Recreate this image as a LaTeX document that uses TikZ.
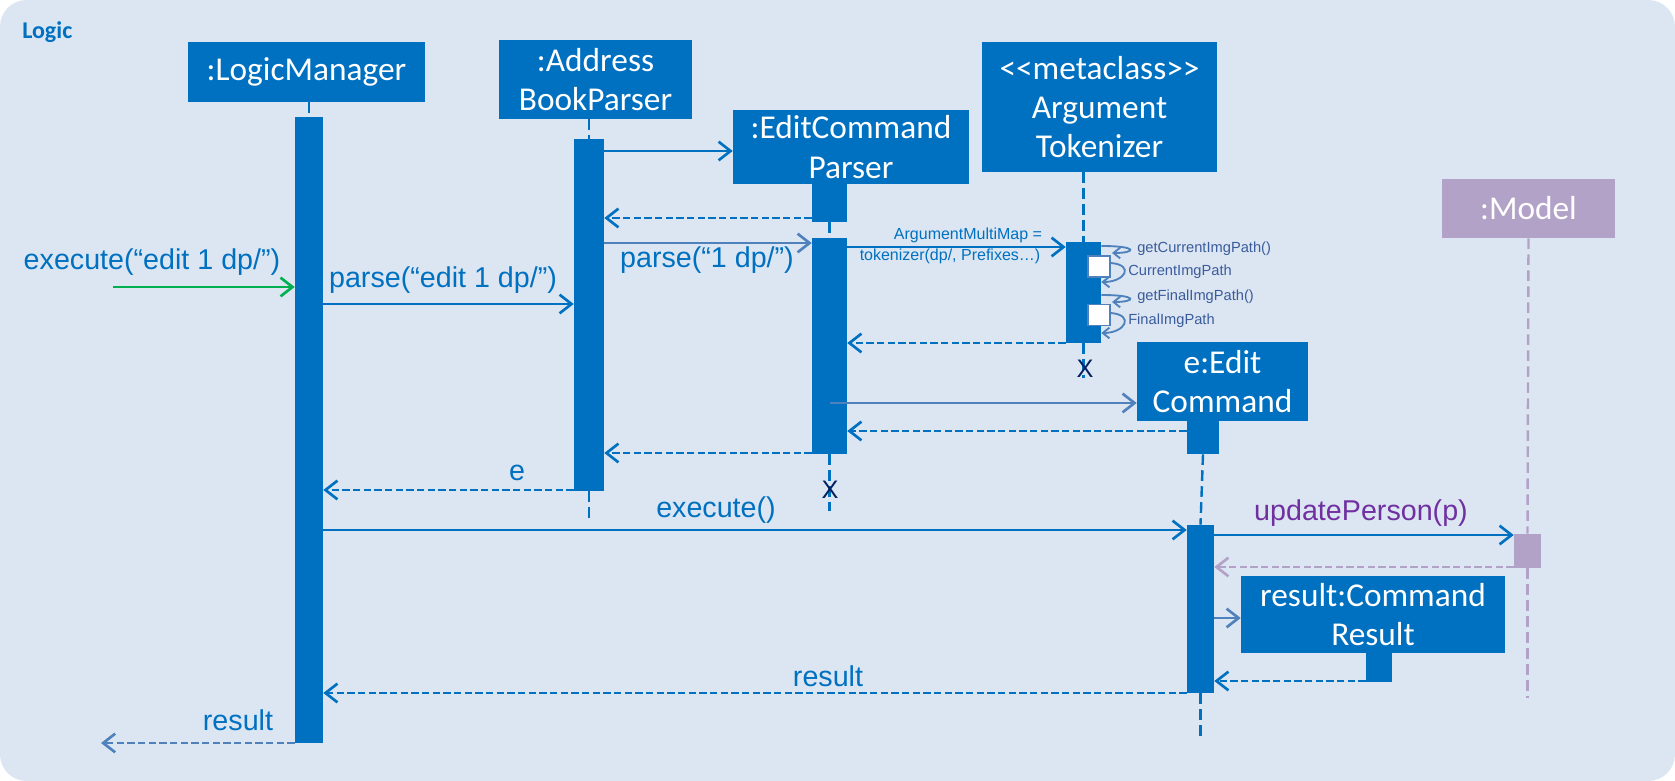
\documentclass[tikz,border=0pt]{standalone}
\usepackage{fontspec}
\setmainfont{Liberation Sans}
\newfontfamily\calibri{Carlito}
\usetikzlibrary{arrows.meta}

\definecolor{bgblue}{HTML}{DCE6F2}
\definecolor{objblue}{HTML}{0070C0}
\definecolor{softblue}{HTML}{4F81BD}
\definecolor{selfblue}{HTML}{3A5C9C}
\definecolor{modelpurple}{HTML}{B3A2C7}
\definecolor{labelpurple}{HTML}{7030A0}
\definecolor{navy}{HTML}{002060}
\definecolor{foundgreen}{HTML}{00B050}

\tikzset{
    obj/.style={fill=objblue, text=white, inner sep=0pt, align=center,
        font=\calibri\fontsize{25}{29.5}\selectfont},
    bar/.style={fill=objblue, inner sep=0pt},
    lifeline/.style={objblue, line width=1.8pt, dash pattern=on 8pt off 4pt},
    msg/.style={objblue, line width=1.8pt,
        -{Straight Barb[length=9pt,width=14pt,line width=2pt]}},
    ret/.style={msg, line width=2.2pt, dash pattern=on 5.5pt off 2.5pt},
    selfmsg/.style={softblue, line width=1.4pt,
        -{Straight Barb[length=5pt,width=8pt,line width=1.4pt]}},
    lbl/.style={text=objblue, inner sep=0pt, font=\fontsize{21.5}{26}\selectfont},
    small/.style={text=objblue, inner sep=0pt, font=\fontsize{12}{14}\selectfont},
    selflbl/.style={text=selfblue, inner sep=0pt, anchor=west, font=\fontsize{11}{13}\selectfont},
    cross/.style={text=navy, inner sep=0pt, font=\fontsize{19}{19}\selectfont},
}

\begin{document}
\begin{tikzpicture}[x=0.75pt, y=-0.75pt]
    \useasboundingbox (0,0) rectangle (1675,781);
    \fill[bgblue, rounded corners=20pt] (0,0) rectangle (1675,781);
    \node[anchor=west, text=objblue, inner sep=0pt, font=\calibri\bfseries\fontsize{18}{21}\selectfont] (title) at (22,32) {Logic};

    % objects
    \node[obj, minimum width=177.75pt, minimum height=45pt] (lm) at (306.5,72) {:LogicManager};
    \node[obj, minimum width=144.75pt, minimum height=59.25pt] (abp) at (595.5,79.5) {:Address\\BookParser};
    \node[obj, minimum width=177pt, minimum height=55.5pt] (ecp) at (851,147) {:EditCommand\\Parser};
    \node[obj, minimum width=176.25pt, minimum height=97.5pt] (at) at (1099.5,107) {<<metaclass>>\\Argument\\Tokenizer};
    \node[obj, fill=modelpurple, minimum width=129.75pt, minimum height=44.25pt] (model) at (1528.5,208.5) {:Model};
    \node[obj, minimum width=128.25pt, minimum height=59.25pt] (ec) at (1222.5,381.5) {e:Edit\\Command};
    \node[obj, minimum width=198pt, minimum height=57.75pt] (cr) at (1373,614.5) {result:Command\\Result};

    % activation bars
    \node[bar, minimum width=21pt, minimum height=469.5pt] (lmBar) at (309,430) {};
    \node[bar, minimum width=22.5pt, minimum height=264pt] (abpBar) at (589,315) {};
    \node[bar, minimum width=26.25pt, minimum height=28.5pt] (ecpTop) at (829.5,203) {};
    \node[bar, minimum width=26.25pt, minimum height=162pt] (ecpBar) at (829.5,346) {};
    \node[bar, minimum width=26.25pt, minimum height=75.75pt] (atBar) at (1083.5,292.5) {};
    \node[bar, minimum width=24pt, minimum height=24.75pt] (ecTop) at (1203,437.5) {};
    \node[bar, minimum width=20.25pt, minimum height=126pt] (ecBar) at (1200.5,609) {};
    \node[bar, fill=modelpurple, minimum width=20.25pt, minimum height=25.5pt] (modelBar) at (1527.5,551) {};
    \node[bar, minimum width=19.5pt, minimum height=21.75pt] (crBar) at (1379,667.5) {};
    \node[draw=softblue, fill=white, line width=1.2pt, inner sep=0pt, minimum width=16.5pt, minimum height=15.75pt] (sq1) at (1099,266.5) {};
    \node[draw=softblue, fill=white, line width=1.2pt, inner sep=0pt, minimum width=16.5pt, minimum height=15.75pt] (sq2) at (1099,315) {};

    % lifelines
    \draw[lifeline] (lm.south -| lmBar) -- (lmBar.north);
    \draw[lifeline] (abp.south -| abpBar) -- (abpBar.north);
    \draw[lifeline] (abpBar.south) -- (abpBar |- 0,523);
    \draw[lifeline] (ecpTop.south) -- (ecpBar.north);
    \draw[lifeline] (ecpBar.south) -- (ecpBar |- 0,511);
    \draw[lifeline] (at.south -| atBar) -- (atBar.north);
    \draw[lifeline] (atBar.south) -- (atBar |- 0,378);
    \draw[lifeline] (ecTop.south) -- (ecBar.north);
    \draw[lifeline] (ecBar.south) -- (ecBar |- 0,737);
    \draw[lifeline, modelpurple] (model.south) -- (modelBar.north);
    \draw[lifeline, modelpurple] (modelBar.south) -- (modelBar |- 0,698);
    \node[cross] (ecpEnd) at (830,490) {X};
    \node[cross] (atEnd) at (1085,369) {X};

    % messages
    \coordinate (found) at (113,287);
    \coordinate (lost) at (101,743);
    \draw[msg, foundgreen] (found) -- (lmBar.west |- found);
    \node[lbl] (lExec) at (152,262) {execute(“edit 1 dp/”)};
    \draw[msg] (lmBar.east |- 0,304) -- (abpBar.west |- 0,304);
    \node[lbl] (lParse) at (443,280) {parse(“edit 1 dp/”)};
    \draw[msg] (abpBar.east |- 0,151) -- (ecp.west |- 0,151);
    \draw[ret] (ecpTop.west |- 0,218) -- (abpBar.east |- 0,218);
    \draw[msg, softblue] (abpBar.east |- 0,243) -- (ecpBar.west |- 0,243);
    \node[lbl] (lParseArgs) at (707,260) {parse(“1 dp/”)};
    \draw[msg] (ecpBar.east |- 0,247) -- (atBar.west |- 0,247);
    \node[small] (lMap) at (968,235) {ArgumentMultiMap =};
    \node[small] (lTok) at (950,256) {tokenizer(dp/, Prefixes…)};

    % self calls of the tokenizer
    \draw[selfmsg] (atBar.east |- 0,246) .. controls +(38,0) and +(24,0) .. (1112,253);
    \node[selflbl] (lGetCur) at (1137,249) {getCurrentImgPath()};
    \draw[selfmsg] (sq1.east |- 0,263) .. controls +(24,2) and +(24,0) .. (atBar.east |- 0,282);
    \node[selflbl] (lCur) at (1128,272) {CurrentImgPath};
    \draw[selfmsg] (atBar.east |- 0,295) .. controls +(38,0) and +(24,0) .. (1112,302);
    \node[selflbl] (lGetFin) at (1137,297) {getFinalImgPath()};
    \draw[selfmsg] (sq2.east |- 0,313) .. controls +(24,2) and +(24,0) .. (atBar.east |- 0,333);
    \node[selflbl] (lFin) at (1128,321) {FinalImgPath};

    \draw[ret] (atBar.west |- 0,343) -- (ecpBar.east |- 0,343);
    \draw[msg, softblue] (ecpBar.center |- 0,403) -- (ec.west |- 0,403);
    \draw[ret] (ecTop.west |- 0,431) -- (ecpBar.east |- 0,431);
    \draw[ret] (ecpBar.west |- 0,453) -- (abpBar.east |- 0,453);
    \draw[ret] (abpBar.west |- 0,490) -- (lmBar.east |- 0,490);
    \node[lbl] (lE) at (517,473) {e};
    \draw[msg] (lmBar.east |- 0,530) -- (ecBar.west |- 0,530);
    \node[lbl] (lExecute) at (716,510) {execute()};
    \draw[msg] (ecBar.east |- 0,535) -- (modelBar.west |- 0,535);
    \node[lbl, text=labelpurple] (lUpdate) at (1361,513) {updatePerson(p)};
    \draw[ret, modelpurple] (modelBar.west |- 0,567) -- (ecBar.east |- 0,567);
    \draw[msg, softblue] (ecBar.east |- 0,618) -- (cr.west |- 0,618);
    \draw[ret] (crBar.west |- 0,681) -- (ecBar.east |- 0,681);
    \draw[ret] (ecBar.west |- 0,693) -- (lmBar.east |- 0,693);
    \node[lbl] (lResult) at (828,676) {result};
    \draw[ret, softblue] (lmBar.west |- lost) -- (lost);
    \node[lbl] (lResultOut) at (238,720) {result};
\end{tikzpicture}
\end{document}
